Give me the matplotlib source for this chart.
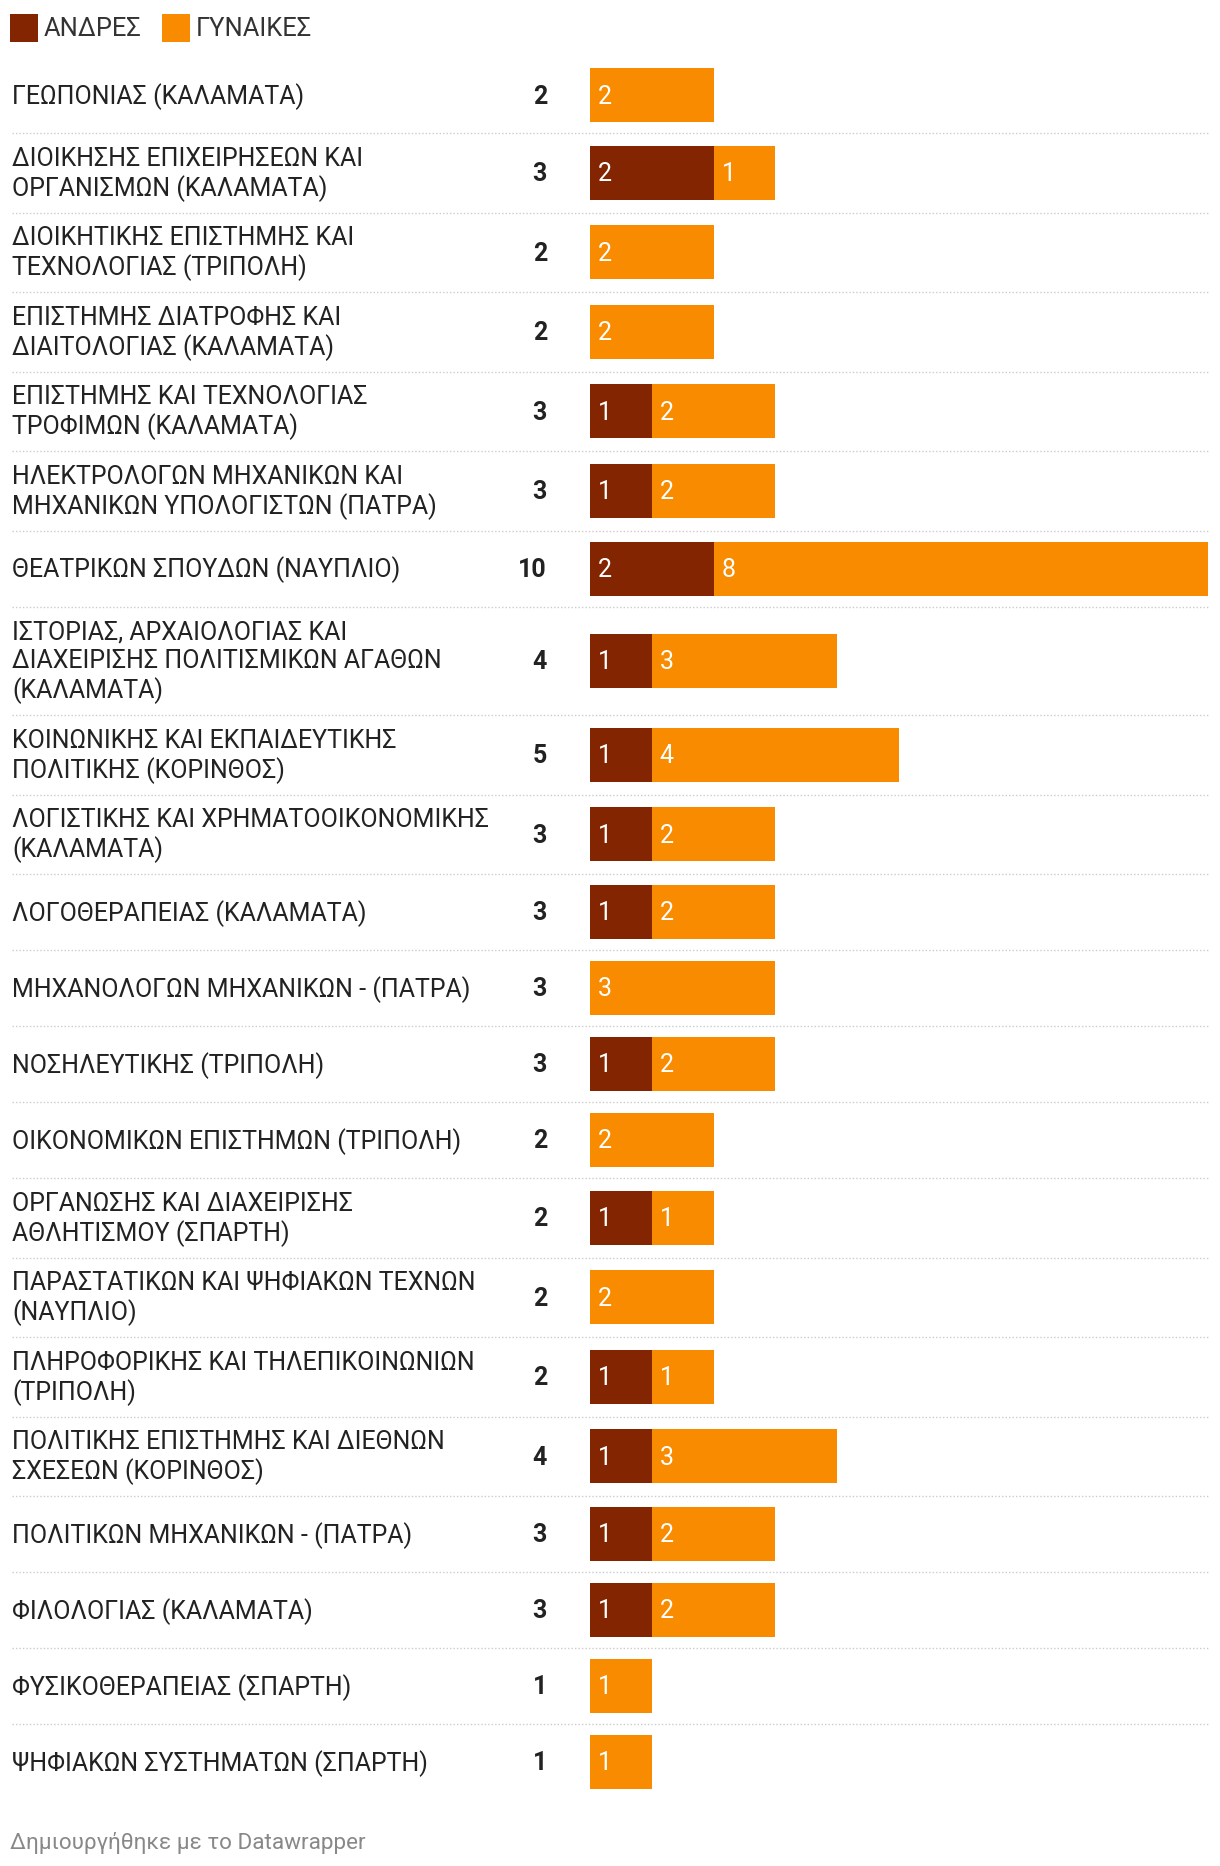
import matplotlib
matplotlib.use("Agg")
from matplotlib import pyplot as plt
from matplotlib.patches import Rectangle

plt.rcParams['font.family'] = ['Roboto', 'DejaVu Sans']

# data
labels = [
    "ΓΕΩΠΟΝΙΑΣ (ΚΑΛΑΜΑΤΑ)",
    "ΔΙΟΙΚΗΣΗΣ ΕΠΙΧΕΙΡΗΣΕΩΝ ΚΑΙ\nΟΡΓΑΝΙΣΜΩΝ (ΚΑΛΑΜΑΤΑ)",
    "ΔΙΟΙΚΗΤΙΚΗΣ ΕΠΙΣΤΗΜΗΣ ΚΑΙ\nΤΕΧΝΟΛΟΓΙΑΣ (ΤΡΙΠΟΛΗ)",
    "ΕΠΙΣΤΗΜΗΣ ΔΙΑΤΡΟΦΗΣ ΚΑΙ\nΔΙΑΙΤΟΛΟΓΙΑΣ (ΚΑΛΑΜΑΤΑ)",
    "ΕΠΙΣΤΗΜΗΣ ΚΑΙ ΤΕΧΝΟΛΟΓΙΑΣ\nΤΡΟΦΙΜΩΝ (ΚΑΛΑΜΑΤΑ)",
    "ΗΛΕΚΤΡΟΛΟΓΩΝ ΜΗΧΑΝΙΚΩΝ ΚΑΙ\nΜΗΧΑΝΙΚΩΝ ΥΠΟΛΟΓΙΣΤΩΝ (ΠΑΤΡΑ)",
    "ΘΕΑΤΡΙΚΩΝ ΣΠΟΥΔΩΝ (ΝΑΥΠΛΙΟ)",
    "ΙΣΤΟΡΙΑΣ, ΑΡΧΑΙΟΛΟΓΙΑΣ ΚΑΙ\nΔΙΑΧΕΙΡΙΣΗΣ ΠΟΛΙΤΙΣΜΙΚΩΝ ΑΓΑΘΩΝ\n(ΚΑΛΑΜΑΤΑ)",
    "ΚΟΙΝΩΝΙΚΗΣ ΚΑΙ ΕΚΠΑΙΔΕΥΤΙΚΗΣ\nΠΟΛΙΤΙΚΗΣ (ΚΟΡΙΝΘΟΣ)",
    "ΛΟΓΙΣΤΙΚΗΣ ΚΑΙ ΧΡΗΜΑΤΟΟΙΚΟΝΟΜΙΚΗΣ\n(ΚΑΛΑΜΑΤΑ)",
    "ΛΟΓΟΘΕΡΑΠΕΙΑΣ (ΚΑΛΑΜΑΤΑ)",
    "ΜΗΧΑΝΟΛΟΓΩΝ ΜΗΧΑΝΙΚΩΝ - (ΠΑΤΡΑ)",
    "ΝΟΣΗΛΕΥΤΙΚΗΣ (ΤΡΙΠΟΛΗ)",
    "ΟΙΚΟΝΟΜΙΚΩΝ ΕΠΙΣΤΗΜΩΝ (ΤΡΙΠΟΛΗ)",
    "ΟΡΓΑΝΩΣΗΣ ΚΑΙ ΔΙΑΧΕΙΡΙΣΗΣ\nΑΘΛΗΤΙΣΜΟΥ (ΣΠΑΡΤΗ)",
    "ΠΑΡΑΣΤΑΤΙΚΩΝ ΚΑΙ ΨΗΦΙΑΚΩΝ ΤΕΧΝΩΝ\n(ΝΑΥΠΛΙΟ)",
    "ΠΛΗΡΟΦΟΡΙΚΗΣ ΚΑΙ ΤΗΛΕΠΙΚΟΙΝΩΝΙΩΝ\n(ΤΡΙΠΟΛΗ)",
    "ΠΟΛΙΤΙΚΗΣ ΕΠΙΣΤΗΜΗΣ ΚΑΙ ΔΙΕΘΝΩΝ\nΣΧΕΣΕΩΝ (ΚΟΡΙΝΘΟΣ)",
    "ΠΟΛΙΤΙΚΩΝ ΜΗΧΑΝΙΚΩΝ - (ΠΑΤΡΑ)",
    "ΦΙΛΟΛΟΓΙΑΣ (ΚΑΛΑΜΑΤΑ)",
    "ΦΥΣΙΚΟΘΕΡΑΠΕΙΑΣ (ΣΠΑΡΤΗ)",
    "ΨΗΦΙΑΚΩΝ ΣΥΣΤΗΜΑΤΩΝ (ΣΠΑΡΤΗ)",
]
men = [0, 2, 0, 0, 1, 1, 2, 1, 1, 1, 1, 0, 1, 0, 1, 0, 1, 1, 1, 1, 0, 0]
women = [2, 1, 2, 2, 2, 2, 8, 3, 4, 2, 2, 3, 2, 2, 1, 2, 1, 3, 2, 2, 1, 1]
series_names = ["ΑΝΔΡΕΣ", "ΓΥΝΑΙΚΕΣ"]
colors = ["#832500", "#f98b00"]

# layout (pixels)
W, H = 1220, 1866
X0 = 590.0      # bar origin
UNIT = 61.8     # pixels per unit
FS = 18
DY = 1.5        # text baseline nudge
row_h = {1: 76.0, 2: 79.5, 3: 108.5}

def xpx(p):
    return (p - X0) / UNIT

fig = plt.figure(figsize=(W / 100, H / 100), dpi=100)
ax = fig.add_axes([0, 0, 1, 1])
ax.set_xlim(xpx(0), xpx(W))
ax.set_ylim(H, 0)
ax.axis('off')

# legend
lx = 10
for name, c in zip(series_names, colors):
    ax.add_patch(Rectangle((xpx(lx), 14), 28 / UNIT, 28, color=c, lw=0))
    ax.text(xpx(lx + 34), 28 + DY, name, fontsize=FS + 0.4, color='#333333',
            va='center', ha='left')
    lx = 162

top = 57.0
for i, lab in enumerate(labels):
    n = lab.count("\n") + 1
    h = row_h[n]
    yc = top + h / 2
    if i > 0:
        ax.plot([xpx(12), xpx(1208)], [top, top], color='#cccccc', lw=1.0,
                linestyle=(0, (1, 1.5)))
    ax.text(xpx(12), yc + DY, lab, fontsize=FS, color='#222222', va='center',
            ha='left', linespacing=1.2)
    ax.text(xpx(547), yc + DY, str(men[i] + women[i]), fontsize=FS,
            fontweight='bold', color='#222222', va='center', ha='right')
    left = 0
    for v, c in zip([men[i], women[i]], colors):
        if v > 0:
            ax.barh(yc, v, left=left, height=54, color=c, lw=0)
            ax.text(left + 8 / UNIT, yc + DY, str(v), fontsize=FS,
                    color='white', va='center', ha='left')
        left += v
    top += h

ax.text(xpx(10), 1843, "Δημιουργήθηκε με το Datawrapper", fontsize=16.2,
        color='#888888', va='center', ha='left')

plt.savefig('out.png', dpi=100)
